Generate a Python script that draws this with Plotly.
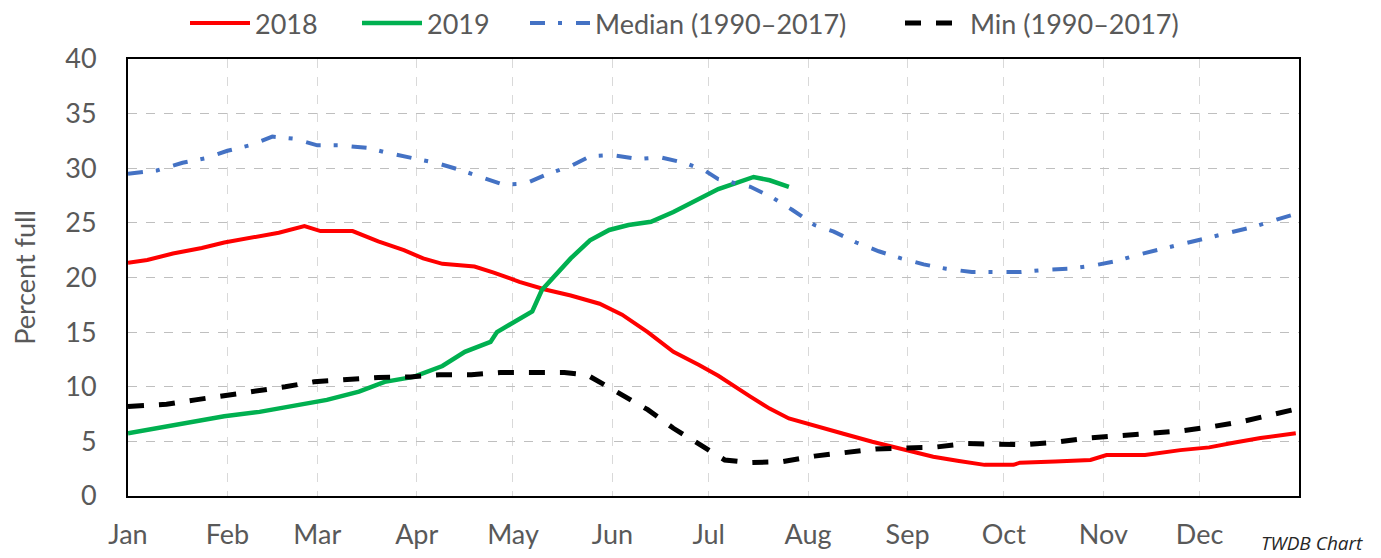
import pandas as pd
import plotly.graph_objects as go

# ---- data (day of year offset from Jan 1, percent full) ----
days_2018 = [0, 6, 14, 23, 30, 39, 47, 55, 60, 70, 78, 86, 92, 98, 108, 114, 122, 130, 138, 147,
             154, 162, 170, 178, 184, 194, 200, 206, 214, 223, 232, 242, 251, 259, 267, 276, 278,
             289, 300, 305, 317, 328, 337, 345, 353, 364]
vals_2018 = [21.35, 21.6, 22.2, 22.7, 23.2, 23.7, 24.1, 24.7, 24.25, 24.25, 23.3, 22.5, 21.75, 21.25,
             21.0, 20.45, 19.6, 18.9, 18.35, 17.6, 16.6, 15.0, 13.2, 12.0, 11.0, 9.1, 8.0, 7.1, 6.4,
             5.7, 4.97, 4.2, 3.6, 3.2, 2.85, 2.85, 3.05, 3.15, 3.3, 3.75, 3.75, 4.2, 4.45, 4.9, 5.3, 5.75]

days_2019 = [0, 9, 20, 30, 41, 51, 62, 72, 80, 89, 92, 98, 105, 113, 115, 121, 126, 129, 133, 138,
             144, 150, 156, 163, 170, 178, 184, 189, 195, 200, 206]
vals_2019 = [5.75, 6.2, 6.8, 7.3, 7.7, 8.2, 8.8, 9.55, 10.45, 10.9, 11.2, 11.9, 13.2, 14.1, 15.0,
             16.1, 16.9, 18.85, 20.1, 21.75, 23.4, 24.35, 24.8, 25.1, 26.0, 27.25, 28.1, 28.6, 29.2,
             28.9, 28.3]

days_median = [0, 9, 17, 24, 31, 38, 45, 52, 59, 66, 75, 81, 90, 96, 104, 110, 117, 124, 131, 138,
               144, 151, 159, 166, 174, 180, 184, 187, 194, 201, 207, 214, 220, 227, 234, 241, 248,
               255, 263, 271, 278, 286, 293, 301, 308, 315, 322, 330, 337, 344, 351, 358, 365]
vals_median = [29.5, 29.8, 30.5, 30.9, 31.6, 32.1, 32.9, 32.7, 32.1, 32.1, 31.85, 31.4, 30.85, 30.5,
               29.8, 29.2, 28.5, 28.6, 29.5, 30.2, 31.1, 31.2, 30.85, 31.0, 30.45, 29.75, 29.0, 28.8,
               28.3, 27.3, 26.2, 24.8, 24.2, 23.2, 22.4, 21.75, 21.2, 20.8, 20.5, 20.5, 20.5, 20.7,
               20.8, 21.1, 21.5, 22.1, 22.6, 23.2, 23.7, 24.2, 24.65, 25.3, 25.9]

days_min = [0, 12, 21, 30, 40, 49, 58, 68, 78, 88, 97, 107, 116, 127, 136, 143, 147, 154, 162, 170,
            178, 186, 194, 204, 214, 223, 233, 242, 251, 261, 270, 280, 290, 299, 308, 319, 328, 338,
            347, 356, 364]
vals_min = [8.2, 8.4, 8.8, 9.15, 9.55, 10.0, 10.45, 10.7, 10.85, 10.9, 11.1, 11.1, 11.3, 11.3, 11.3,
            11.1, 10.45, 9.25, 7.9, 6.2, 4.7, 3.3, 3.05, 3.15, 3.65, 4.0, 4.3, 4.4, 4.45, 4.8, 4.7,
            4.7, 4.95, 5.3, 5.5, 5.75, 5.95, 6.35, 6.8, 7.4, 7.95]

month_labels = ["Jan", "Feb", "Mar", "Apr", "May", "Jun", "Jul", "Aug", "Sep", "Oct", "Nov", "Dec"]
y_ticks = [0, 5, 10, 15, 20, 25, 30, 35, 40]

BASE = pd.Timestamp("2018-01-01")


def to_dates(days):
    return [BASE + pd.Timedelta(days=d) for d in days]


month_starts = [pd.Timestamp(2018, m, 1) for m in range(1, 13)]

FONT = "Lato, sans-serif"
GREY = "#595959"
# the page body has an 8px margin, so the figure is sized to fit the window
W, H = 1373, 550
ML, MR, MT, MB = 120, 82, 51, 62
PW, PH = W - ML - MR, H - MT - MB

fig = go.Figure()
fig.add_trace(go.Scatter(x=to_dates(days_2018), y=vals_2018, name="2018", mode="lines",
                         line=dict(color="#FF0000", width=4), legend="legend"))
fig.add_trace(go.Scatter(x=to_dates(days_2019), y=vals_2019, name="2019", mode="lines",
                         line=dict(color="#00B050", width=4.5), legend="legend2"))
fig.add_trace(go.Scatter(x=to_dates(days_median), y=vals_median, name="Median (1990\u20132017)",
                         mode="lines",
                         line=dict(color="#4472C4", width=4, dash="15px,13px,4px,14px"),
                         legend="legend3"))
fig.add_trace(go.Scatter(x=to_dates(days_min), y=vals_min, name="Min (1990\u20132017)", mode="lines",
                         line=dict(color="#000000", width=5, dash="16px,15px"), legend="legend4"))


def leg(xpix):
    return dict(orientation="h", xref="container", yref="container", x=xpix / W, xanchor="left",
                y=1 - 40 / H, yanchor="bottom", font=dict(size=27, color=GREY, family=FONT),
                itemwidth=60, bgcolor="rgba(0,0,0,0)", borderwidth=0)


fig.update_layout(
    width=W, height=H,
    margin=dict(l=ML, r=MR, t=MT, b=MB, autoexpand=False),
    paper_bgcolor="white", plot_bgcolor="white",
    font=dict(family=FONT, color=GREY, size=27),
    showlegend=True,
    legend=leg(177), legend2=leg(349), legend3=leg(517), legend4=leg(892),
    xaxis=dict(
        range=[BASE, pd.Timestamp("2019-01-01")],
        tickvals=month_starts, ticktext=month_labels,
        showgrid=True, gridcolor="#D9D9D9", griddash="dash", gridwidth=1,
        showline=True, linecolor="black", linewidth=2, mirror=True,
        ticks="", ticklabelstandoff=14,
        tickfont=dict(size=27, color=GREY, family=FONT),
        zeroline=False,
    ),
    yaxis=dict(
        range=[0, 40], tickvals=y_ticks,
        showgrid=True, gridcolor="#BFBFBF", griddash="dash", gridwidth=1,
        showline=True, linecolor="black", linewidth=2, mirror=True,
        ticks="", ticklabelstandoff=24,
        tickfont=dict(size=27, color=GREY, family=FONT),
        title=dict(text="Percent full", font=dict(size=27, color=GREY, family=FONT), standoff=23),
        zeroline=False,
    ),
)

fig.add_annotation(text="<i>TWDB Chart</i>", xref="paper", yref="paper",
                   x=(1357 - ML) / PW, y=-(535 - (H - MB)) / PH,
                   xanchor="right", yanchor="middle", showarrow=False,
                   font=dict(size=19, color="#262626", family="Open Sans, Lato, sans-serif"))

fig.write_html("out.html")
